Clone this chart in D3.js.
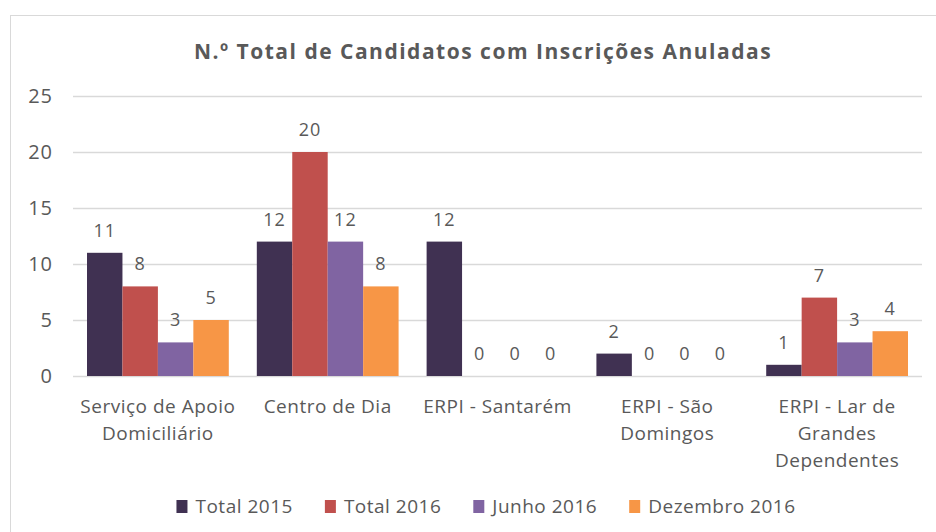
<!DOCTYPE html>
<html>
<head>
<meta charset="utf-8">
<script src="https://cdn.jsdelivr.net/npm/d3@7"></script>
<style>
  body { margin: 0; background: #fff; }
  text { font-family: "Open Sans", sans-serif; fill: #595959; }
</style>
</head>
<body>
<div id="chart"></div>
<script>
var width = 936, height = 532

var categories = [
  ['Serviço de Apoio', 'Domiciliário'],
  ['Centro de Dia'],
  ['ERPI - Santarém'],
  ['ERPI - São', 'Domingos'],
  ['ERPI - Lar de', 'Grandes', 'Dependentes']
]
var seriesNames = ['Total 2015', 'Total 2016', 'Junho 2016', 'Dezembro 2016']
var total2015 = [11, 12, 12, 2, 1]
var total2016 = [8, 20, 0, 0, 7]
var junho2016 = [3, 12, 0, 0, 3]
var dezembro2016 = [5, 8, 0, 0, 4]
var yTicks = [0, 5, 10, 15, 20, 25]
var colors = ['#403152', '#c0504d', '#8064a2', '#f79646']

var series = [total2015, total2016, junho2016, dezembro2016]

var svg = d3.select('#chart').append('svg')
  .attr('width', width).attr('height', height)

// frame
svg.append('rect')
  .attr('x', 10.5).attr('y', 15.5)
  .attr('width', 940).attr('height', 540)
  .attr('fill', 'none').attr('stroke', '#d9d9d9')

svg.append('text')
  .attr('x', 483).attr('y', 59)
  .attr('text-anchor', 'middle')
  .style('font-size', '21px').style('font-weight', 'bold')
  .style('letter-spacing', '1.5px')
  .text('N.º Total de Candidatos com Inscrições Anuladas')

var x0 = d3.scaleBand()
  .domain(d3.range(categories.length))
  .range([73, 922])
  .paddingInner(0.165).paddingOuter(0.0825)

var x1 = d3.scaleBand()
  .domain(d3.range(seriesNames.length))
  .range([0, x0.bandwidth()])

var y = d3.scaleLinear().domain([0, 25]).range([376, 96])

// grid
svg.append('g').selectAll('line').data(yTicks)
  .enter().append('line')
    .attr('x1', 73).attr('x2', 922)
    .attr('y1', d => Math.round(y(d)) + 0.5).attr('y2', d => Math.round(y(d)) + 0.5)
    .attr('stroke', '#d9d9d9').attr('stroke-width', 1.5)

svg.append('g').selectAll('text').data(yTicks)
  .enter().append('text')
    .attr('x', 53).attr('y', d => y(d) + 7)
    .attr('text-anchor', 'end')
    .style('font-size', '20px').style('letter-spacing', '1px')
    .text(d => d)

// bars
var groups = svg.append('g').selectAll('g').data(categories)
  .enter().append('g')
    .attr('transform', (d, i) => `translate(${x0(i)},0)`)

groups.each(function(c, ci) {
  var g = d3.select(this)
  series.forEach((s, si) => {
    var v = s[ci]
    g.append('rect')
      .attr('x', x1(si)).attr('width', x1.bandwidth())
      .attr('y', y(v)).attr('height', y(0) - y(v))
      .attr('fill', colors[si])
    g.append('text')
      .attr('x', x1(si) + x1.bandwidth() / 2)
      .attr('y', y(v) - 16)
      .attr('text-anchor', 'middle')
      .style('font-size', '18px').style('letter-spacing', '1px')
      .text(v)
  })
})

// category labels
svg.append('g').selectAll('text').data(categories)
  .enter().append('text')
    .attr('x', (d, i) => x0(i) + x0.bandwidth() / 2)
    .attr('y', 413)
    .attr('text-anchor', 'middle')
    .style('font-size', '19px').style('letter-spacing', '0.5px')
    .each(function(lines) {
      d3.select(this).selectAll('tspan').data(lines)
        .enter().append('tspan')
          .attr('x', d3.select(this).attr('x'))
          .attr('dy', (d, i) => i === 0 ? 0 : 27)
          .text(d => d)
    })

// legend
var legend = svg.append('g')
var lx = 0
seriesNames.forEach((name, i) => {
  var item = legend.append('g').attr('transform', `translate(${lx},0)`)
  item.append('rect')
    .attr('x', 0).attr('y', -13).attr('width', 11).attr('height', 13)
    .attr('fill', colors[i])
  var t = item.append('text')
    .attr('x', 19).attr('y', 0)
    .style('font-size', '19px').style('letter-spacing', '0.5px')
    .text(name)
  lx += 19 + t.node().getComputedTextLength() + 32
})
lx -= 32
legend.attr('transform', `translate(${486 - lx / 2},513)`)
</script>
</body>
</html>
